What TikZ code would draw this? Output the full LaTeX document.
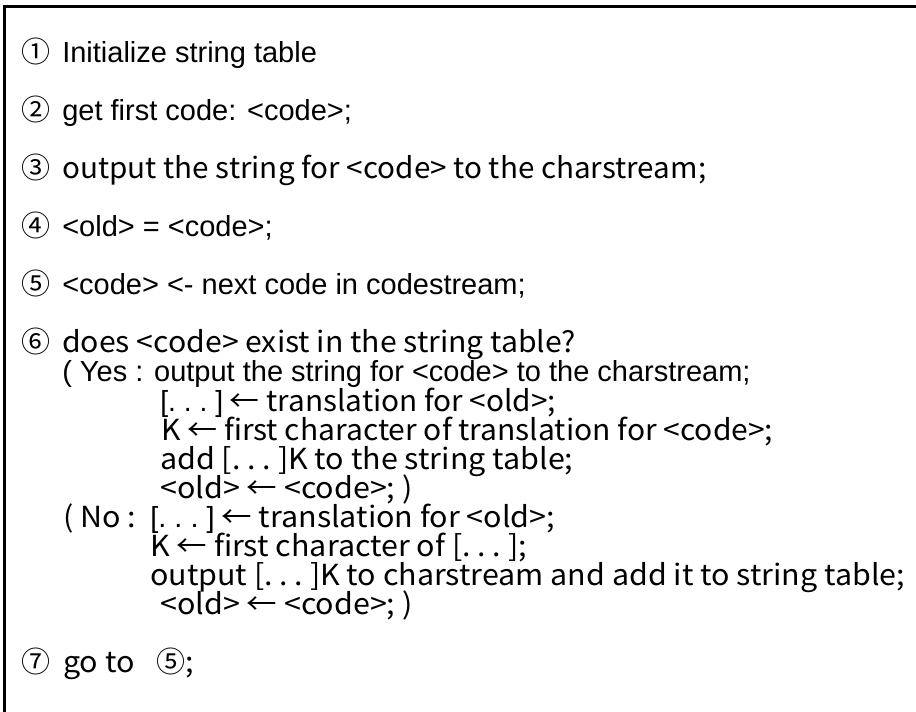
\documentclass[tikz,border=0pt]{standalone}
\usepackage{fontspec}
\usepackage{graphicx}
\setmainfont{Liberation Sans}
\newfontfamily\gul{Noto Sans CJK KR}[FakeStretch=1.05]
\newfontfamily\circf{Noto Sans CJK KR}
\newcommand\az{\fontsize{21.75}{21.75}\selectfont}
\newcommand\gz{\gul\fontsize{21.75}{21.75}\selectfont}
\newcommand\cz{\circf\fontsize{21.75}{21.75}\selectfont}
\newsavebox\fitbox
\newcommand\fitw[2]{\sbox\fitbox{#2}\pgfmathsetmacro\fitr{#1/\the\wd\fitbox}\scalebox{\fitr}[1]{\usebox\fitbox}}
\begin{document}
\begin{tikzpicture}[x=0.75pt,y=-0.75pt,
  atxt/.style={anchor=base west,inner sep=0pt,font=\az},
  gtxt/.style={anchor=base west,inner sep=0pt,font=\gz},
  num/.style={anchor=base west,inner sep=0pt,font=\cz}]
\useasboundingbox (0,0) rectangle (916,712);
\fill[white] (0,0) rectangle (916,712);
\draw[line width=2.25pt] (4,712) -- (4,6.5) -- (916,6.5);
% steps
\node[num] (n1) at (21,63) {①};
\node[atxt] (t1) at (62,63) {Initialize string table};
\node[num] (n2) at (21,121) {②};
\node[atxt] (t2) at (62,121) {get first code: <code>;};
\node[num] (n3) at (21,179) {③};
\node[gtxt] (t3) at (62,179) {\fitw{483}{output the string for <code> to the charstream;}};
\node[num] (n4) at (21,237) {④};
\node[atxt] (t4) at (62,237) {<old> = <code>;};
\node[num] (n5) at (21,295) {⑤};
\node[atxt] (t5) at (62,295) {<code> <- next code in codestream;};
\node[num] (n6) at (21,353) {⑥};
\node[gtxt] (t6) at (62,353) {\fitw{385.5}{does <code> exist in the string table?}};
% yes branch
\node[atxt] (y1) at (62,382) {( Yes : output the string for <code> to the charstream;};
\node[atxt] (y2) at (160,411) {\fitw{297}{[.\ .\ .\ ]{\gz\ ← translation for <old>;}}};
\node[gtxt] (y3) at (161,440) {\fitw{459}{K ← first character of translation for <code>;}};
\node[gtxt] (y4) at (160,469) {add [.\ .\ .\ ]K to the string table;};
\node[gtxt] (y5) at (160,498) {<old> ← <code>; )};
% no branch
\node[gtxt] (no1) at (63,527) {( No :};
\node[atxt] (no1b) at (150,527) {[.\ .\ .\ ]{\gz\ ← translation for <old>;}};
\node[gtxt] (no2) at (150,556) {K ← first character of [.\ .\ .\ ];};
\node[gtxt] (no3) at (150,585) {\fitw{566}{output [.\ .\ .\ ]K to charstream and add it to string table;}};
\node[gtxt] (no4) at (160,614) {<old> ← <code>; )};
% step 7
\node[num] (n7) at (21,672) {⑦};
\node[gtxt] (t7) at (63,672) {go to};
\node[num] (n7b) at (156,672) {⑤{\gz;}};
\end{tikzpicture}
\end{document}
